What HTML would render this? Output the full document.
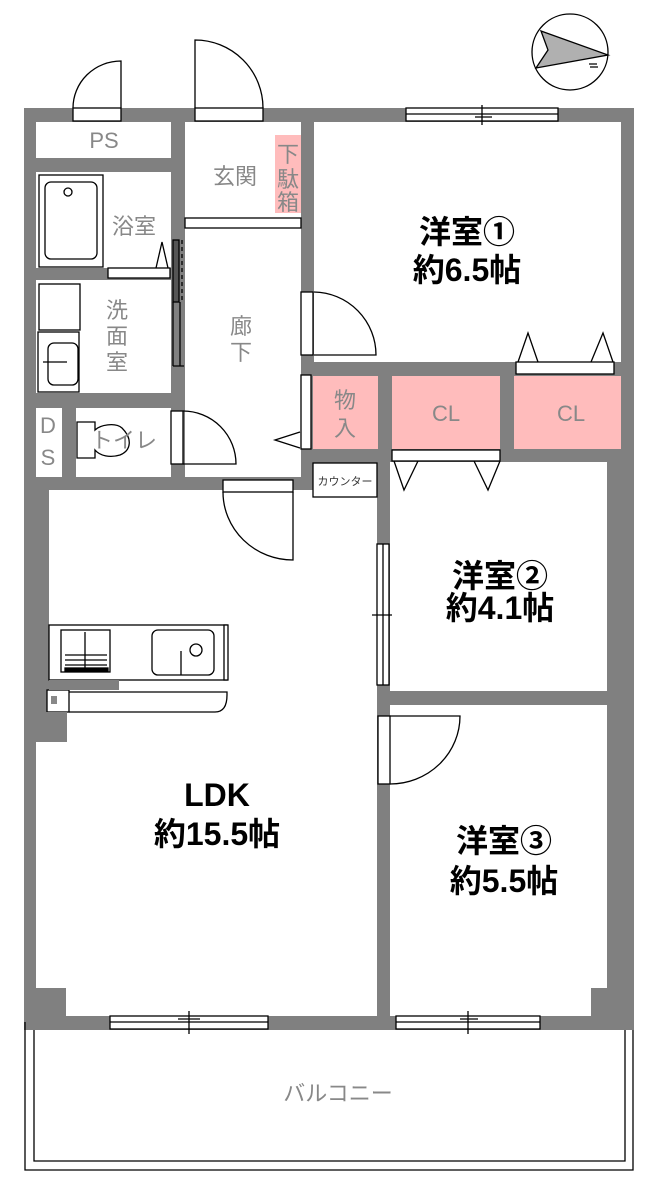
<!DOCTYPE html>
<html><head><meta charset="utf-8"><style>
html,body{margin:0;padding:0;background:#fff;width:664px;height:1200px;overflow:hidden}
svg{display:block}
.g{font-family:"Liberation Sans","Noto Sans CJK JP",sans-serif;fill:#888;font-size:22px}
.b{font-family:"Liberation Sans","Noto Sans CJK JP",sans-serif;fill:#000;font-size:32px;font-weight:bold}
</style></head><body>
<svg width="664" height="1200" viewBox="0 0 664 1200" xmlns="http://www.w3.org/2000/svg">
<rect width="664" height="1200" fill="#fff"/>
<g fill="#808080">
<rect x="24" y="108" width="610" height="922"/>
</g>
<g fill="#fff">
<rect x="36" y="122" width="135" height="36"/>
<rect x="36" y="172" width="135" height="96"/>
<rect x="36" y="280" width="135" height="113"/>
<rect x="36" y="408" width="26" height="69"/>
<rect x="76" y="408" width="95" height="69"/>
<rect x="185" y="122" width="116" height="355"/>
<rect x="314" y="122" width="307" height="240"/>
<rect x="390" y="462" width="217" height="229"/>
<rect x="390" y="705" width="217" height="283"/>
<rect x="390" y="988" width="201" height="28"/>
<rect x="49" y="490" width="328" height="222"/>
<rect x="67" y="712" width="310" height="276"/>
<rect x="36" y="742" width="31" height="246"/>
<rect x="66" y="988" width="311" height="28"/>
</g>
<g fill="#ffbcbc">
<rect x="275" y="135" width="26" height="78"/>
<rect x="313" y="376" width="65" height="73"/>
<rect x="392" y="376" width="108" height="73"/>
<rect x="514" y="376" width="107" height="73"/>
</g>
<g fill="none" stroke="#000" stroke-width="1.3">
<rect x="73" y="108" width="48" height="13" fill="#fff"/>
<path d="M121 108 V61 A48 47 0 0 0 73 108"/>
<rect x="195" y="108" width="68" height="13" fill="#fff"/>
<path d="M195 108 V40 A68 68 0 0 1 263 108"/>
<rect x="185" y="218" width="116" height="10" fill="#fff"/>
<rect x="39" y="175" width="64" height="92"/>
<rect x="45" y="182" width="52" height="77" rx="6"/>
<circle cx="68" cy="192" r="4"/>
<rect x="108" y="268" width="62" height="10" fill="#fff"/>
<path d="M156 268 L162 242 L168 268"/>
<rect x="39" y="284" width="41" height="46"/>
<rect x="38" y="332" width="41" height="60"/>
<rect x="48" y="343" width="30" height="42" rx="6"/>
<path d="M43 362 H67"/>
<rect x="173" y="240" width="6" height="62" fill="#555"/>
<path d="M182 240 V302" stroke-dasharray="4 3"/>
<path d="M173 302 V366 M180 302 V366 M173 366 H184"/>
<path d="M77 422 H95 V430 C100 425 115 422 122 428 C132 438 132 450 120 455 C110 458 100 456 95 450 V458 H77 Z" fill="#fff"/>
<rect x="171" y="411" width="12" height="53" fill="#fff"/>
<path d="M183 411 A53 53 0 0 1 236 464 H183"/>
<path d="M300 432 L275 440 L300 448"/>
<rect x="301" y="292" width="12" height="63" fill="#fff"/>
<path d="M314 292 A63 63 0 0 1 376 355 H314"/>
<rect x="301" y="375" width="10" height="74" fill="#fff"/>
<rect x="313" y="463" width="64" height="34" fill="#fff"/>
<rect x="392" y="450" width="108" height="11" fill="#fff"/>
<path d="M394 461 L404 490 L418 461 M474 461 L488 490 L500 461"/>
<rect x="516" y="362" width="98" height="12" fill="#fff"/>
<path d="M518 362 L528 333 L538 362 M591 362 L603 333 L613 362"/>
<rect x="406" y="108" width="152" height="13" fill="#fff"/>
<path d="M406 114 H558 M475 117 H492 M482 105 V125"/>
<circle cx="570" cy="52" r="38" fill="#fff"/>
<path d="M541 31 L608 55 L536 68 L548 50 Z" fill="#b0b0b0"/>
<path d="M589 64 h8 M590 67 h8"/>
<rect x="223" y="480" width="70" height="12" fill="#fff"/>
<path d="M223 492 A70 68 0 0 0 293 560 V492"/>
<rect x="377" y="544" width="12" height="141" fill="#fff"/>
<path d="M383 544 V685 M372 615 H392 M383 607 V624"/>
<rect x="378" y="716" width="12" height="68" fill="#fff"/>
<path d="M390 716 H460 A70 68 0 0 1 390 784"/>
<rect x="49" y="625" width="178" height="55" fill="#fff"/>
<rect x="224" y="625" width="4" height="55" fill="#fff"/>
<rect x="61" y="630" width="49" height="42"/>
<path d="M65 655 H107 M65 660 H107 M65 665 H107 M85 632 V670"/>
<rect x="65" y="668" width="43" height="3" fill="#000"/>
<rect x="152" y="630" width="62" height="45" rx="6"/>
<circle cx="196" cy="650" r="6"/>
<path d="M181 651 V675"/>
<path d="M69 692 H227 V695 Q227 712 215 712 H69"/>
<rect x="47" y="690" width="22" height="22" fill="#fff"/>
<rect x="110" y="1016" width="158" height="13" fill="#fff"/>
<path d="M110 1022 H268 M178 1019 H200 M189 1011 V1034"/>
<rect x="396" y="1016" width="144" height="13" fill="#fff"/>
<path d="M396 1022 H540 M460 1019 H478 M468 1011 V1034"/>
<path d="M25 1022 V1170 H633 V1030 M34 1030 V1161 H625 V1030"/>
</g>
<g fill="#808080"><rect x="49" y="680" width="70" height="10"/><rect x="36" y="712" width="31" height="30"/></g>
<rect x="51" y="696" width="6" height="8" fill="#888"/>
<text class="g" x="104" y="148" text-anchor="middle" font-size="21">PS</text>
<text class="g" x="235" y="184" text-anchor="middle">玄関</text>
<text class="g" x="288" y="162" text-anchor="middle" font-size="21" fill="#777">下</text>
<text class="g" x="288" y="187" text-anchor="middle" font-size="21" fill="#777">駄</text>
<text class="g" x="288" y="210" text-anchor="middle" font-size="21" fill="#777">箱</text>
<text class="g" x="134" y="234" text-anchor="middle">浴室</text>
<text class="g" x="117" y="318" text-anchor="middle">洗</text>
<text class="g" x="117" y="344" text-anchor="middle">面</text>
<text class="g" x="117" y="370" text-anchor="middle">室</text>
<text class="g" x="241" y="334" text-anchor="middle">廊</text>
<text class="g" x="241" y="360" text-anchor="middle">下</text>
<text class="g" x="48" y="433" text-anchor="middle" font-size="20">D</text>
<text class="g" x="48" y="465" text-anchor="middle" font-size="20">S</text>
<text class="g" x="124" y="448" text-anchor="middle" font-size="20">トイレ</text>
<text class="g" x="345" y="408" text-anchor="middle">物</text>
<text class="g" x="345" y="436" text-anchor="middle">入</text>
<text class="g" x="446" y="421" text-anchor="middle">CL</text>
<text class="g" x="571" y="421" text-anchor="middle">CL</text>
<text x="345" y="485" text-anchor="middle" font-family="Liberation Sans,'Noto Sans CJK JP',sans-serif" font-size="11" fill="#333">カウンター</text>
<text class="b" x="467" y="243" text-anchor="middle">洋室①</text>
<text class="b" x="467" y="281" text-anchor="middle">約6.5帖</text>
<text class="b" x="500" y="587" text-anchor="middle">洋室②</text>
<text class="b" x="500" y="619" text-anchor="middle">約4.1帖</text>
<text class="b" x="504" y="852" text-anchor="middle">洋室③</text>
<text class="b" x="504" y="892" text-anchor="middle">約5.5帖</text>
<text class="b" x="217" y="806" text-anchor="middle">LDK</text>
<text class="b" x="217" y="845" text-anchor="middle">約15.5帖</text>
<text class="g" x="338" y="1101" text-anchor="middle" fill="#aaa">バルコニー</text>
</svg>
</body></html>
